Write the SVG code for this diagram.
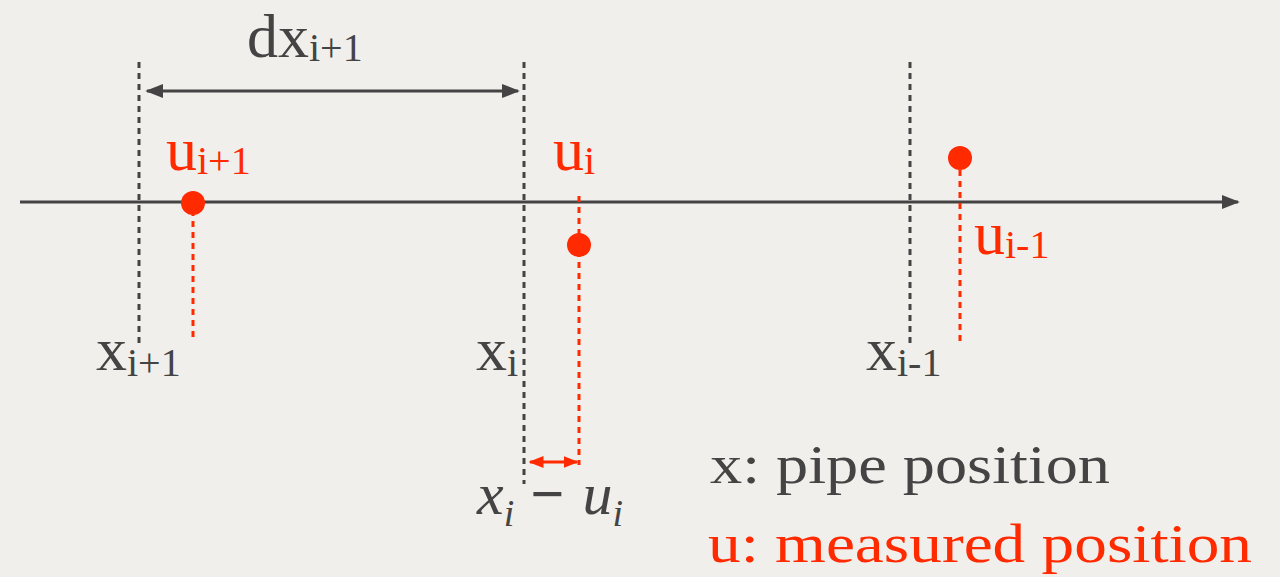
<svg xmlns="http://www.w3.org/2000/svg" width="1280" height="577" viewBox="0 0 1280 577">
<style>
.bg{fill:#f1efeb}
.ax{stroke:#444;stroke-width:3;fill:none}
.dk{stroke:#444;stroke-width:3;stroke-dasharray:6 5;fill:none}
.rd{stroke:#ff2a00;stroke-width:3;stroke-dasharray:6 5;fill:none}
.t{font-family:"Liberation Serif","DejaVu Serif",serif;fill:#444}
.r{fill:#ff2a00}
.it{font-style:italic}
</style>
<defs>
<marker id="ah" viewBox="0 0 10 10" refX="9" refY="5" markerWidth="6" markerHeight="6" orient="auto-start-reverse" markerUnits="strokeWidth"><path d="M0,1 L10,5 L0,9 z" fill="#444"/></marker>
<marker id="ahr" viewBox="0 0 10 10" refX="9" refY="5" markerWidth="5" markerHeight="5" orient="auto-start-reverse" markerUnits="strokeWidth"><path d="M0,1 L10,5 L0,9 z" fill="#ff2a00"/></marker>
</defs>
<rect class="bg" x="0" y="0" width="1280" height="577"/>
<g id="connectors">
<line class="ax" x1="20" y1="202" x2="1238" y2="202" marker-end="url(#ah)"/>
<line class="ax" x1="147" y1="91" x2="518" y2="91" marker-start="url(#ah)" marker-end="url(#ah)"/>
<line class="dk" x1="139" y1="62" x2="139" y2="345"/>
<line class="dk" x1="524" y1="62" x2="524" y2="484"/>
<line class="dk" x1="910" y1="62" x2="910" y2="345"/>
<line class="rd" x1="193" y1="210" x2="193" y2="340"/>
<line class="rd" x1="579" y1="196" x2="579" y2="465"/>
<line class="rd" x1="960" y1="170" x2="960" y2="344"/>
<line stroke="#ff2a00" stroke-width="3" x1="530" y1="462" x2="577" y2="462" marker-start="url(#ahr)" marker-end="url(#ahr)"/>
</g>
<g id="dx-label"><text class="t" x="247" y="57" font-size="62">dx<tspan font-size="40" dy="4">i+1</tspan></text></g>
<g id="u-ip1">
<circle cx="193" cy="203" r="12" class="r"/>
<text class="t r" x="166" y="170" font-size="62">u<tspan font-size="40" dy="4">i+1</tspan></text>
</g>
<g id="u-i">
<circle cx="579" cy="245" r="12" class="r"/>
<text class="t r" x="553" y="170" font-size="62">u<tspan font-size="40" dy="4">i</tspan></text>
</g>
<g id="u-im1">
<circle cx="960" cy="158" r="12" class="r"/>
<text class="t r" x="974" y="254" font-size="62">u<tspan font-size="40" dy="4">i-1</tspan></text>
</g>
<g id="x-ip1"><text class="t" x="96" y="370" font-size="62">x<tspan font-size="40" dy="6">i+1</tspan></text></g>
<g id="x-i"><text class="t" x="476" y="370" font-size="62">x<tspan font-size="40" dy="6">i</tspan></text></g>
<g id="x-im1"><text class="t" x="866" y="370" font-size="62">x<tspan font-size="40" dy="6">i-1</tspan></text></g>
<g id="diff-label"><text class="t it" x="477" y="514" font-size="60">x<tspan font-size="38" dy="12">i</tspan><tspan dx="16" dy="-12" font-style="normal" font-weight="bold">−</tspan><tspan dx="18">u</tspan><tspan font-size="38" dy="12">i</tspan></text></g>
<g id="legend">
<text class="t" x="710" y="483" font-size="54" textLength="400" lengthAdjust="spacingAndGlyphs">x: pipe position</text>
<text class="t r" x="708" y="562" font-size="54" textLength="544" lengthAdjust="spacingAndGlyphs">u: measured position</text>
</g>
</svg>
